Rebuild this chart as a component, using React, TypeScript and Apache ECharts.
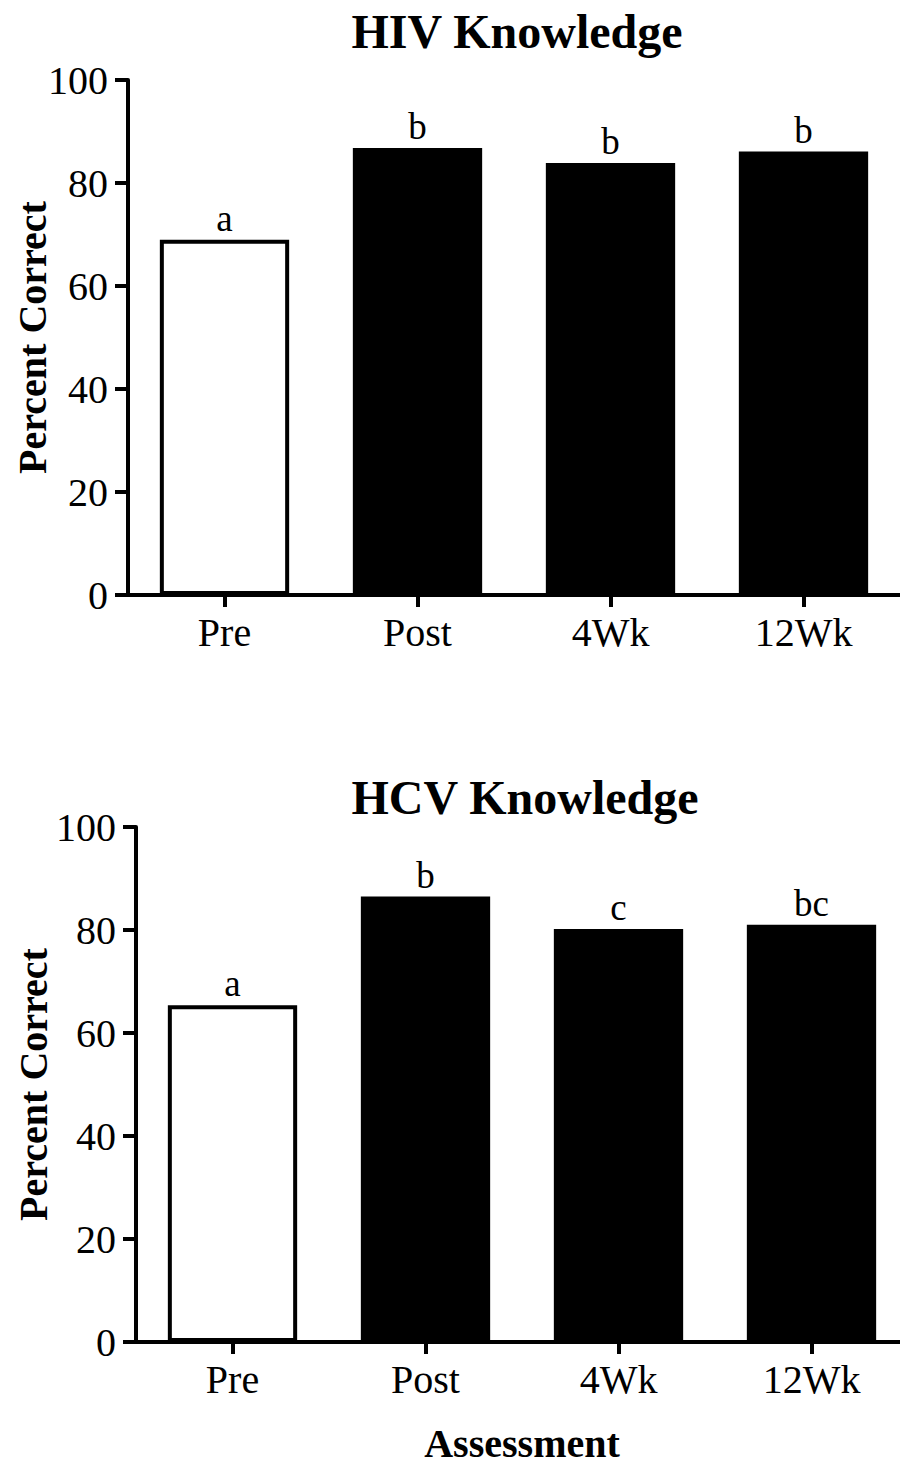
import React, { useEffect, useRef } from "react";
import * as echarts from "echarts";

const categories = ["Pre", "Post", "4Wk", "12Wk"];
const hivValues = [69, 86.8, 83.9, 86.1];
const hivLetters = ["a", "b", "b", "b"];
const hcvValues = [65.4, 86.5, 80.2, 81];
const hcvLetters = ["a", "b", "c", "bc"];
const yTicks = [0, 20, 40, 60, 80, 100];

const FONT = "'Liberation Serif', 'Times New Roman', serif";

export default function App() {
  const ref = useRef<HTMLDivElement>(null);
  useEffect(() => {
    if (!ref.current) return;
    const chart = echarts.init(ref.current, undefined, { renderer: "svg" });
    const axisLine = { show: true, lineStyle: { color: "#000", width: 4 } };
    const grids = [
      { left: 128, width: 772, top: 80, height: 515, outerBoundsMode: "none", containLabel: false },
      { left: 136, width: 772, top: 827, height: 515, outerBoundsMode: "none", containLabel: false },
    ];
    const yNameGaps = [76, 83];
    const mkX = (i: number) => ({
      type: "category",
      gridIndex: i,
      data: categories,
      axisLine,
      axisTick: { show: true, alignWithLabel: true, length: 12, lineStyle: { color: "#000", width: 4 } },
      axisLabel: { color: "#000", fontSize: 40, fontFamily: FONT, margin: 17 },
      name: i === 1 ? "Assessment" : "",
      nameLocation: "middle",
      nameGap: 81,
      nameMoveOverlap: false,
      nameTextStyle: { color: "#000", fontSize: 40, lineHeight: 40, fontWeight: "bold", fontFamily: FONT },
    });
    const mkY = (i: number) => ({
      type: "value",
      gridIndex: i,
      min: yTicks[0],
      max: yTicks[yTicks.length - 1],
      interval: yTicks[1] - yTicks[0],
      axisLine,
      axisTick: { show: true, length: 13, lineStyle: { color: "#000", width: 4 } },
      splitLine: { show: false },
      axisLabel: { color: "#000", fontSize: 40, fontFamily: FONT, margin: 20 },
      name: "Percent Correct",
      nameLocation: "middle",
      nameRotate: 90,
      nameGap: yNameGaps[i],
      nameMoveOverlap: false,
      nameTextStyle: { color: "#000", fontSize: 40, lineHeight: 40, fontWeight: "bold", fontFamily: FONT },
    });
    const mkSeries = (i: number, vals: number[], letters: string[]) => ({
      type: "bar",
      xAxisIndex: i,
      yAxisIndex: i,
      barWidth: "67%",
      data: vals.map((v, k) => ({
        value: v,
        itemStyle:
          k === 0
            ? { color: "#fff", borderColor: "#000", borderWidth: 4 }
            : { color: "#000", borderColor: "#000", borderWidth: 0 },
      })),
      label: {
        show: true,
        position: "top",
        distance: 3,
        color: "#000",
        fontSize: 37,
        fontFamily: FONT,
        formatter: (p: any) => letters[p.dataIndex],
      },
    });
    chart.setOption({
      animation: false,
      backgroundColor: "#fff",
      grid: grids,
      xAxis: [mkX(0), mkX(1)],
      yAxis: [mkY(0), mkY(1)],
      series: [mkSeries(0, hivValues, hivLetters), mkSeries(1, hcvValues, hcvLetters)],
      graphic: [
        {
          type: "text",
          x: 517,
          y: 31,
          style: { text: "HIV Knowledge", fontSize: 48, fontWeight: "bold", fontFamily: FONT, fill: "#000", textAlign: "center", textVerticalAlign: "middle" },
        },
        {
          type: "text",
          x: 525,
          y: 797,
          style: { text: "HCV Knowledge", fontSize: 48, fontWeight: "bold", fontFamily: FONT, fill: "#000", textAlign: "center", textVerticalAlign: "middle" },
        },
      ],
    });
    return () => chart.dispose();
  }, []);
  return (
    <div
      ref={ref}
      style={{ position: "absolute", left: 0, top: 0, width: 900, height: 1465, background: "#fff" }}
    />
  );
}
